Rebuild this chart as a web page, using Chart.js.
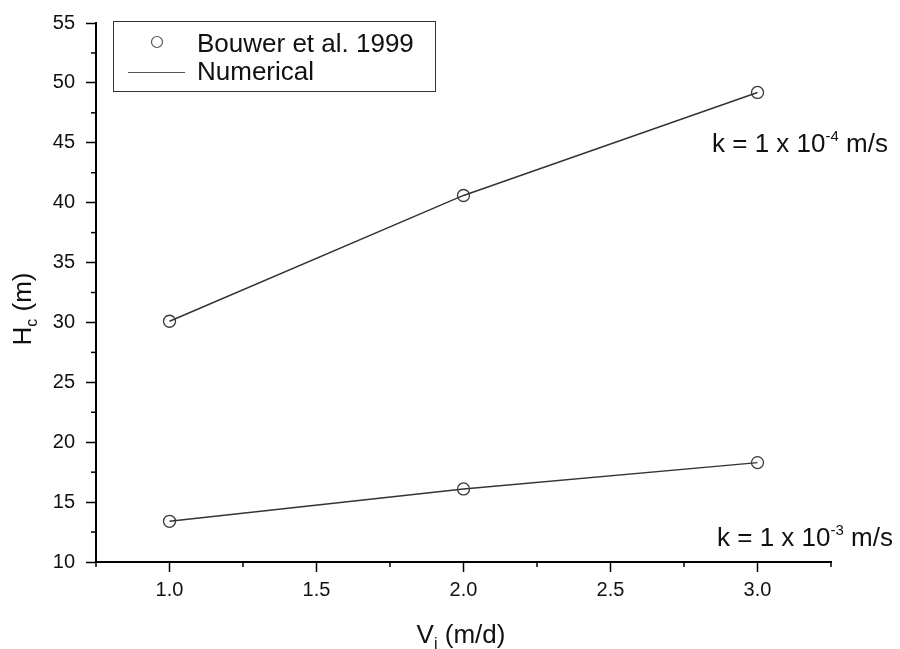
<!DOCTYPE html>
<html>
<head>
<meta charset="utf-8">
<title>Hc vs Vi</title>
<script src="https://cdn.jsdelivr.net/npm/chart.js@4/dist/chart.umd.min.js"></script>
<style>
    html, body { margin: 0; padding: 0; background: #fff; }
    #wrap { width: 900px; height: 649px; position: relative; }
</style>
</head>
<body>
<div id="wrap"><canvas id="chart"></canvas></div>
<script>
// Data
const infiltrationRates = [1.0, 2.0, 3.0];          // Vi (m/d)
const bouwerK4 = [30.1, 40.6, 49.2];                // k = 1e-4 m/s
const bouwerK3 = [13.4, 16.1, 18.3];                // k = 1e-3 m/s
const numericalK4 = [30.1, 40.6, 49.2];
const numericalK3 = [13.4, 16.1, 18.3];

// Axis ticks
const xTicks = [1.0, 1.5, 2.0, 2.5, 3.0];
const xMinorTicks = [0.75, 1.25, 1.75, 2.25, 2.75, 3.25];
const yTicks = [10, 15, 20, 25, 30, 35, 40, 45, 50, 55];
const yMinorTicks = [12.5, 17.5, 22.5, 27.5, 32.5, 37.5, 42.5, 47.5, 52.5];

const FONT = '"Liberation Sans", Arial, sans-serif';
const INK = '#111';

function toPoints(ys) {
    return infiltrationRates.map((x, i) => ({ x: x, y: ys[i] }));
}

function circleSet(ys) {
    return {
        data: toPoints(ys),
        showLine: false,
        pointStyle: 'circle',
        pointRadius: 6,
        pointBorderWidth: 1.3,
        pointBorderColor: '#3a3a3a',
        pointBackgroundColor: 'rgba(0,0,0,0)'
    };
}

function lineSet(ys) {
    return {
        data: toPoints(ys),
        showLine: true,
        borderColor: '#333',
        borderWidth: 1.4,
        pointRadius: 0,
        tension: 0
    };
}

// Draw text runs with sub/superscripts, return width
function drawRuns(ctx, runs, x, y) {
    let cx = x;
    runs.forEach(r => {
        ctx.font = r.size + 'px ' + FONT;
        ctx.fillText(r.text, cx, y + (r.dy || 0));
        cx += ctx.measureText(r.text).width;
    });
    return cx - x;
}

function runsWidth(ctx, runs) {
    let w = 0;
    runs.forEach(r => {
        ctx.font = r.size + 'px ' + FONT;
        w += ctx.measureText(r.text).width;
    });
    return w;
}

const decorations = {
    id: 'decorations',
    afterDraw(chart) {
        const ctx = chart.ctx;
        const xs = chart.scales.x;
        const ys = chart.scales.y;
        ctx.save();

        // Minor ticks
        ctx.strokeStyle = '#000';
        ctx.lineWidth = 1.5;
        xMinorTicks.forEach(v => {
            const px = xs.getPixelForValue(v);
            ctx.beginPath();
            ctx.moveTo(px, ys.bottom);
            ctx.lineTo(px, ys.bottom + 5);
            ctx.stroke();
        });
        yMinorTicks.forEach(v => {
            const py = ys.getPixelForValue(v);
            ctx.beginPath();
            ctx.moveTo(xs.left, py);
            ctx.lineTo(xs.left - 5, py);
            ctx.stroke();
        });

        ctx.fillStyle = INK;
        ctx.textAlign = 'left';
        ctx.textBaseline = 'alphabetic';

        // X axis title: V_i (m/d)
        const xTitle = [
            { text: 'V', size: 26 },
            { text: 'i', size: 16, dy: 6 },
            { text: ' (m/d)', size: 26 }
        ];
        const xw = runsWidth(ctx, xTitle);
        drawRuns(ctx, xTitle, 461 - xw / 2, 643);

        // Y axis title: H_c (m)
        const yTitle = [
            { text: 'H', size: 26 },
            { text: 'c', size: 16, dy: 6 },
            { text: ' (m)', size: 26 }
        ];
        const yw = runsWidth(ctx, yTitle);
        ctx.save();
        ctx.translate(31, 309);
        ctx.rotate(-Math.PI / 2);
        drawRuns(ctx, yTitle, -yw / 2, 0);
        ctx.restore();

        // Curve labels
        drawRuns(ctx, [
            { text: 'k = 1 x 10', size: 26 },
            { text: '-4', size: 15, dy: -11 },
            { text: ' m/s', size: 26 }
        ], 712, 152);
        drawRuns(ctx, [
            { text: 'k = 1 x 10', size: 26 },
            { text: '-3', size: 15, dy: -11 },
            { text: ' m/s', size: 26 }
        ], 717, 546);

        // Legend box
        ctx.strokeStyle = '#333';
        ctx.lineWidth = 1;
        ctx.strokeRect(113.5, 21.5, 322, 70);
        ctx.strokeStyle = '#555';
        ctx.lineWidth = 1.2;
        ctx.beginPath();
        ctx.arc(157, 42, 5.5, 0, Math.PI * 2);
        ctx.stroke();
        ctx.beginPath();
        ctx.moveTo(128, 72.5);
        ctx.lineTo(185, 72.5);
        ctx.stroke();
        ctx.fillStyle = INK;
        ctx.font = '26px ' + FONT;
        ctx.fillText('Bouwer et al. 1999', 197, 52);
        ctx.fillText('Numerical', 197, 80);

        ctx.restore();
    }
};

new Chart(document.getElementById('chart'), {
    type: 'scatter',
    data: {
        datasets: [
            lineSet(numericalK4),
            lineSet(numericalK3),
            circleSet(bouwerK4),
            circleSet(bouwerK3)
        ]
    },
    options: {
        responsive: true,
        maintainAspectRatio: false,
        animation: false,
        layout: { padding: { top: 21, right: 69, left: 0, bottom: 0 } },
        plugins: {
            legend: { display: false },
            tooltip: { enabled: false }
        },
        scales: {
            x: {
                type: 'linear',
                min: 0.75,
                max: 3.25,
                afterBuildTicks: s => { s.ticks = xTicks.map(v => ({ value: v })); },
                afterFit: s => { s.height = 87; },
                border: { display: true, color: '#000', width: 2 },
                grid: { drawOnChartArea: false, drawTicks: true, tickLength: 10, tickColor: '#000', tickWidth: 1.5 },
                ticks: {
                    color: INK,
                    font: { family: FONT, size: 20 },
                    padding: 6,
                    maxRotation: 0,
                    callback: v => Number(v).toFixed(1)
                }
            },
            y: {
                type: 'linear',
                min: 10,
                max: 55,
                afterBuildTicks: s => { s.ticks = yTicks.map(v => ({ value: v })); },
                afterFit: s => { s.width = 96; },
                border: { display: true, color: '#000', width: 2 },
                grid: { drawOnChartArea: false, drawTicks: true, tickLength: 10, tickColor: '#000', tickWidth: 1.5 },
                ticks: {
                    color: INK,
                    font: { family: FONT, size: 20 },
                    padding: 11,
                    callback: v => String(v)
                }
            }
        }
    },
    plugins: [decorations]
});
</script>
</body>
</html>
